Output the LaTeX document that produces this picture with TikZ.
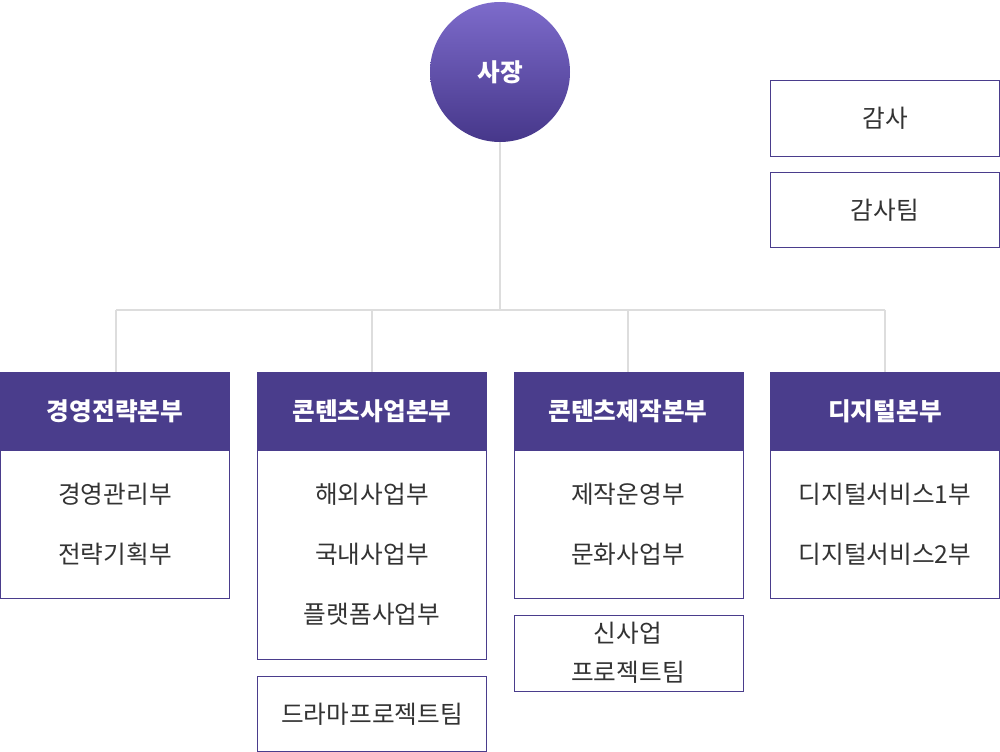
\documentclass[tikz,border=0pt]{standalone}
\usepackage{fontspec}
\setmainfont{Noto Sans CJK KR}
\definecolor{hd}{HTML}{4A3D8C}
\definecolor{bd}{HTML}{4A3D8C}
\definecolor{ln}{HTML}{DDDDDD}
\definecolor{ctop}{HTML}{7D6BCB}
\definecolor{cbot}{HTML}{46378A}
\begin{document}
\begin{tikzpicture}[x=0.75pt,y=-0.75pt,
  box/.style={draw=bd,line width=0.8pt,fill=white},
  head/.style={fill=hd},
  txt/.style={font=\fontsize{18.5}{23}\selectfont,text=black!80,align=center},
  htxt/.style={font=\fontsize{18.5}{23}\selectfont\bfseries,text=white},
  conn/.style={draw=ln,line width=0.8pt}]
\useasboundingbox (0,0) rectangle (1000,752);
\coordinate (top) at (500,142);
\coordinate (j) at (500,310);
\coordinate (l) at (116,310);
\coordinate (r) at (885,310);
\draw[conn] (top) -- (j);
\draw[conn] (l) -- (r);
\foreach \x in {116,372,628,885} \draw[conn] (\x,310) -- (\x,372);
\shade[top color=ctop,bottom color=cbot] (500,72) circle (70);
\node[htxt] (ceo) at (500,72) {사장};
\draw[box] (770.5,80.5) rectangle (999.5,156.5); \node[txt] (a1) at (885,118) {감사};
\draw[box] (770.5,172.5) rectangle (999.5,247.5); \node[txt] (a2) at (885,210) {감사팀};
\draw[box] (0.5,450) rectangle (229.5,598.5);
\fill[head] (0,372) rectangle (230,450);
\node[htxt] (h1) at (115,411) {경영전략본부};
\draw[box] (257.5,450) rectangle (486.5,659.5);
\fill[head] (257,372) rectangle (487,450);
\node[htxt] (h2) at (372,411) {콘텐츠사업본부};
\draw[box] (514.5,450) rectangle (743.5,598.5);
\fill[head] (514,372) rectangle (744,450);
\node[htxt] (h3) at (628,411) {콘텐츠제작본부};
\draw[box] (770.5,450) rectangle (999.5,598.5);
\fill[head] (770,372) rectangle (1000,450);
\node[htxt] (h4) at (885,411) {디지털본부};
\node[txt] (c11) at (115,494) {경영관리부};
\node[txt] (c12) at (115,554) {전략기획부};
\node[txt] (c21) at (372,494) {해외사업부};
\node[txt] (c22) at (372,554) {국내사업부};
\node[txt] (c23) at (372,614) {플랫폼사업부};
\node[txt] (c31) at (628,494) {제작운영부};
\node[txt] (c32) at (628,554) {문화사업부};
\node[txt] (c41) at (885,494) {디지털서비스1부};
\node[txt] (c42) at (885,554) {디지털서비스2부};
\draw[box] (257.5,676.5) rectangle (486.5,751.5); \node[txt] (d) at (372,714) {드라마프로젝트팀};
\draw[box] (514.5,615.5) rectangle (743.5,691.5); \node[txt,font=\fontsize{18.5}{29}\selectfont] (s) at (628,653) {신사업\\프로젝트팀};
\end{tikzpicture}
\end{document}
